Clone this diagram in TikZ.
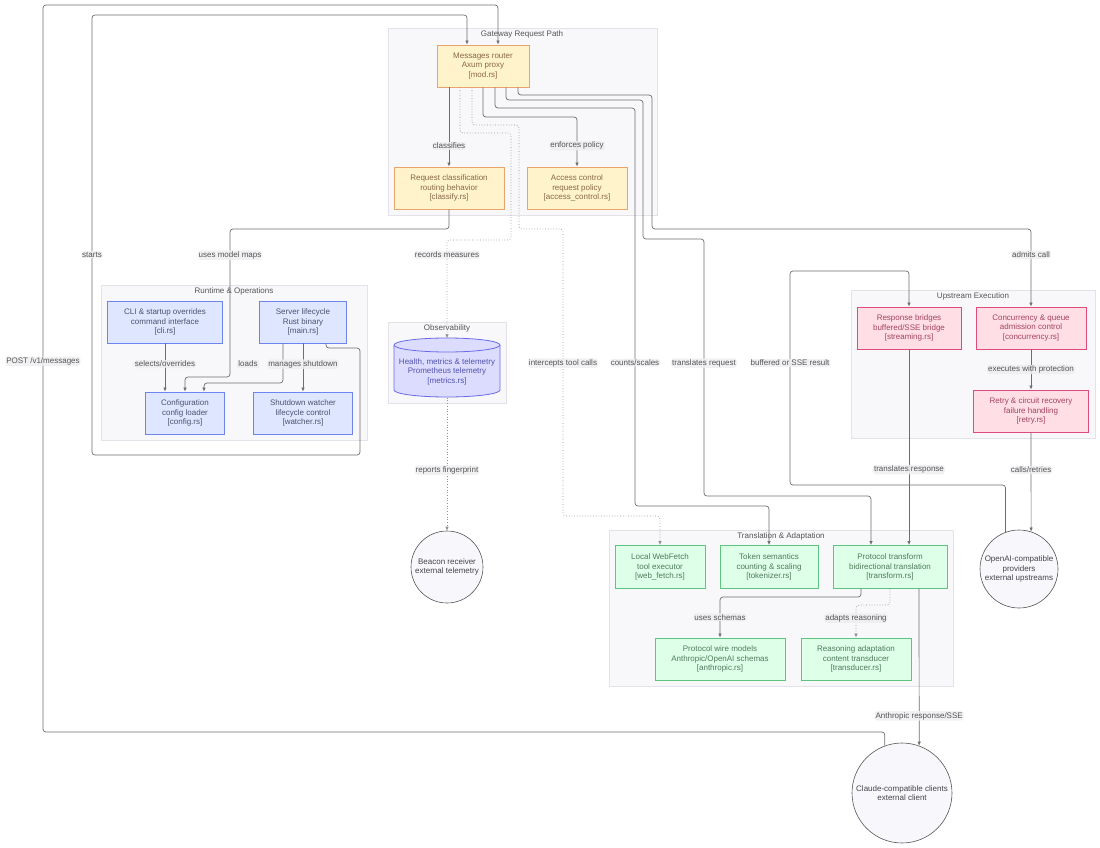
\documentclass[tikz,border=0pt]{standalone}
\usepackage{fontspec}
\setmainfont{Liberation Sans}
\usetikzlibrary{arrows.meta}

\definecolor{grpfill}{HTML}{F8F7FA}
\definecolor{grpline}{HTML}{E4E1E8}
\definecolor{grptext}{HTML}{555555}
\definecolor{gatefill}{HTML}{FFF3CC}
\definecolor{gateline}{HTML}{E9A46B}
\definecolor{gatetext}{HTML}{87684A}
\definecolor{runfill}{HTML}{DEE7FF}
\definecolor{runline}{HTML}{6D84EE}
\definecolor{runtext}{HTML}{4B5270}
\definecolor{obsfill}{HTML}{DCDCFF}
\definecolor{obsline}{HTML}{6B6BE6}
\definecolor{obstext}{HTML}{5252AE}
\definecolor{upfill}{HTML}{FFDEE6}
\definecolor{upline}{HTML}{E04A7C}
\definecolor{uptext}{HTML}{A2445F}
\definecolor{trfill}{HTML}{DEFFE8}
\definecolor{trline}{HTML}{5EC47F}
\definecolor{trtext}{HTML}{4F7A5B}
\definecolor{extfill}{HTML}{F8F7FC}
\definecolor{extline}{HTML}{555555}
\definecolor{exttext}{HTML}{444444}
\definecolor{linkcol}{HTML}{6E6E6E}
\definecolor{dotcol}{HTML}{909090}
\definecolor{lblbg}{HTML}{EEEEF1}

\begin{document}
\begin{tikzpicture}[x=1pt, y=-1pt, font=\fontsize{8}{9.3}\selectfont,
    grp/.style = {draw=grpline, fill=grpfill},
    grptitle/.style = {text=grptext, inner sep=1pt},
    box/.style = {draw, align=center, minimum height=42pt, inner sep=0pt, line width=0.8pt},
    gate/.style = {box, draw=gateline, fill=gatefill, text=gatetext},
    run/.style = {box, draw=runline, fill=runfill, text=runtext},
    upst/.style = {box, draw=upline, fill=upfill, text=uptext},
    trans/.style = {box, draw=trline, fill=trfill, text=trtext},
    obs/.style = {text=obstext, inner sep=0pt},
    drum/.style = {draw=obsline, fill=obsfill, line width=0.8pt},
    ext/.style = {draw=extline, fill=extfill, text=exttext, circle, align=center, inner sep=0pt, line width=0.6pt},
    link/.style = {draw=linkcol, line width=0.7pt, rounded corners=3pt, -{Latex[length=4pt,width=3.5pt]}},
    dots/.style = {link, draw=dotcol, dotted},
    lbl/.style = {fill=lblbg, fill opacity=0.85, text opacity=1, text=grptext, inner sep=1pt}]

    \useasboundingbox (0,0) rectangle (1100,848);

    % Skupine (ozadja)
    \draw[grp] (388,28) rectangle (657,215);
    \node[grptitle] (tgate) at (522,34) {Gateway Request Path};
    \draw[grp] (101,285) rectangle (367,440);
    \node[grptitle] (trun) at (234,291) {Runtime \& Operations};
    \draw[grp] (388,322) rectangle (506,403);
    \node[grptitle] (tobs) at (447,328) {Observability};
    \draw[grp] (851,290) rectangle (1095,438);
    \node[grptitle] (tup) at (973,296) {Upstream Execution};
    \draw[grp] (609,530) rectangle (953,686);
    \node[grptitle] (ttrans) at (781,536) {Translation \& Adaptation};

    % Vozlišča
    \node[gate, minimum width=92pt] (router) at (483,66) {Messages router\\Axum proxy\\{[mod.rs]}};
    \node[gate, minimum width=110pt] (classify) at (449,188) {Request classification\\routing behavior\\{[classify.rs]}};
    \node[gate, minimum width=100pt] (access) at (577,188) {Access control\\request policy\\{[access\_control.rs]}};

    \node[run, minimum width=115pt] (cli) at (165,322) {CLI \& startup overrides\\command interface\\{[cli.rs]}};
    \node[run, minimum width=87pt] (lifecycle) at (303,322) {Server lifecycle\\Rust binary\\{[main.rs]}};
    \node[run, minimum width=79pt] (config) at (185,413) {Configuration\\config loader\\{[config.rs]}};
    \node[run, minimum width=99pt] (watcher) at (303,413) {Shutdown watcher\\lifecycle control\\{[watcher.rs]}};

    % valj za metrike
    \filldraw[drum] (394,345) -- (394,390) arc[start angle=180, end angle=0, x radius=53, y radius=7]
        -- (500,345) arc[start angle=0, end angle=-180, x radius=53, y radius=7] -- cycle;
    \draw[drum] (394,345) arc[start angle=180, end angle=0, x radius=53, y radius=7];
    \node[obs, minimum width=106pt, minimum height=59pt] (metrics) at (447,368)
        {\raisebox{-6pt}[0pt][0pt]{\begin{tabular}{@{}c@{}}Health, metrics \& telemetry\\Prometheus telemetry\\{[metrics.rs]}\end{tabular}}};

    \node[upst, minimum width=104pt] (streaming) at (909,328) {Response bridges\\buffered/SSE bridge\\{[streaming.rs]}};
    \node[upst, minimum width=110pt] (concurrency) at (1031,328) {Concurrency \& queue\\admission control\\{[concurrency.rs]}};
    \node[upst, minimum width=115pt] (retry) at (1031,411) {Retry \& circuit recovery\\failure handling\\{[retry.rs]}};

    \node[trans, minimum width=90pt, minimum height=43pt] (webfetch) at (660,567) {Local WebFetch\\tool executor\\{[web\_fetch.rs]}};
    \node[trans, minimum width=98pt, minimum height=43pt] (tokenizer) at (769,567) {Token semantics\\counting \& scaling\\{[tokenizer.rs]}};
    \node[trans, minimum width=114pt, minimum height=43pt] (transform) at (890,567) {Protocol transform\\bidirectional translation\\{[transform.rs]}};
    \node[trans, minimum width=130pt] (wire) at (720,659) {Protocol wire models\\Anthropic/OpenAI schemas\\{[anthropic.rs]}};
    \node[trans, minimum width=110pt] (transducer) at (856,659) {Reasoning adaptation\\content transducer\\{[transducer.rs]}};

    \node[ext, minimum size=72pt] (beacon) at (447,567) {Beacon receiver\\external telemetry};
    \node[ext, minimum size=78pt] (providers) at (1019,569) {OpenAI-compatible\\providers\\external upstreams};
    \node[ext, minimum size=100pt] (clients) at (902,793) {Claude-compatible clients\\external client};

    % Povezave
    \draw[link] (clients.110) |- (43,732) -- node[lbl, pos=0.51] {POST /v1/messages} (43,5) -| ([xshift=15pt]router.north);
    \draw[link] ([xshift=23pt]lifecycle.south) |- (360,348) |- (92,455) -- node[lbl, pos=0.455] {starts} (92,15) -| ([xshift=-16pt]router.north);
    \draw[link] (router.south -| classify.north) -- node[lbl, pos=0.74] {classifies} (classify.north);
    \draw[dots] ([xshift=-23pt]router.south) |- (511,133) |- (447,240) -- node[lbl, pos=0.15] {records measures} (metrics.north);
    \draw[dots] ([xshift=-11pt]router.south) |- (519,125) |- (563,229) -- node[lbl, pos=0.467] {intercepts tool calls} (563,516) -| (webfetch.north);
    \draw[link] (router.south) |- (577,117) -- node[lbl, pos=0.58] {enforces policy} (access.north);
    \draw[link] ([xshift=12pt]router.south) |- (635,108) -- node[lbl, pos=0.64] {counts/scales} (635,506) -| (tokenizer.north);
    \draw[link] ([xshift=23pt]router.south) |- (643,100) |- (704,239) -- node[lbl, pos=0.483] {translates request} (704,496) -| ([xshift=-19pt]transform.north);
    \draw[link] ([xshift=35pt]router.south) |- (652,95) |- (1031,229) -- node[lbl, pos=0.333] {admits call} (concurrency.north);

    \draw[link] (providers.110) |- (790,485) -- node[lbl, pos=0.57] {buffered or SSE result} (790,271) -| (streaming.north);
    \draw[link] (streaming.south) -- node[lbl, pos=0.614] {translates response} (streaming.south |- transform.north);
    \draw[link] (concurrency.south) -- node[lbl, pos=0.5] {executes with protection} (retry.north);
    \draw[link] (retry.south) -- node[lbl, pos=0.38] {calls/retries} (providers.72);

    \draw[link] ([xshift=-29pt]transform.south) |- (720,597) -- node[lbl, pos=0.5] {uses schemas} (wire.north);
    \draw[dots] (transform.south) |- (856,605) -- node[lbl, pos=0.4] {adapts reasoning} (transducer.north);
    \draw[link] ([xshift=29pt]transform.south) -- node[lbl, pos=0.81] {Anthropic response/SSE} (clients.70);
    \draw[dots] (metrics.south) -- node[lbl, pos=0.545] {reports fingerprint} (beacon.north);

    \draw[link] (classify.south) |- (230,229) -- node[lbl, pos=0.176] {uses model maps} (230,377) -| (config.north);
    \draw[link] (cli.south) -- node[lbl, pos=0.43] {selects/overrides} ([xshift=-20pt]config.north);
    \draw[link] ([xshift=-20pt]lifecycle.south) |- (204,383) -- ([xshift=19pt]config.north);
    \node[lbl] (lloads) at (248,364) {loads};
    \draw[link] (lifecycle.south) -- node[lbl, pos=0.43] {manages shutdown} (watcher.north);

\end{tikzpicture}
\end{document}
